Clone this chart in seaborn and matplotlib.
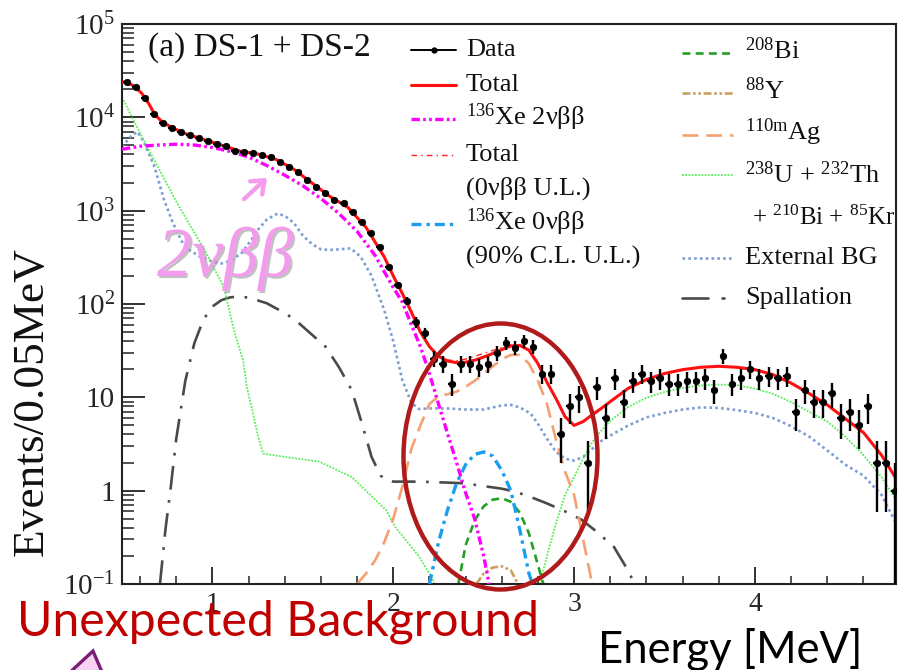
import numpy as np
import matplotlib
matplotlib.use("Agg")
import matplotlib.pyplot as plt
import seaborn as sns
from matplotlib.lines import Line2D
from matplotlib.patches import Ellipse, Polygon, FancyArrowPatch
from matplotlib.ticker import MultipleLocator, FixedLocator, LogLocator, NullFormatter
import matplotlib.patheffects as pe

# ---------------- data: counts per 0.05 MeV bin ----------------
bin_width = 0.05
data_counts = [23700, 21000, 16100, 10900, 8770, 7690, 7020, 6470, 5960, 5580,
               5180, 4930, 4360, 4290, 4120, 3950, 3730, 3350, 2960, 2580,
               2130, 1810, 1560, 1300, 1200, 975, 762, 572, 411, 247,
               160, 108, 64, 49, 26, 23, 14, 23, 23, 21,
               23, 30, 38, 34, 40, 35, 18, 18, 4, 8,
               10, 2, 13, 6, 16, 9, 15, 18, 15, 16,
               14, 14, 15, 15, 16, 12, 28, 14, 16, 20,
               16, 17, 16, 17, 7, 12, 9, 9, 11, 6,
               7, 5, 8, 2, 2, 1]
data_energy = np.round(0.5 + bin_width / 2 + bin_width * np.arange(len(data_counts)), 3)

# ---------------- fit components ----------------
total_energy = [0.50, 0.53, 0.57, 0.61, 0.65, 0.68, 0.72, 0.78, 0.85, 0.95,
                1.05, 1.15, 1.25, 1.35, 1.45, 1.55, 1.65, 1.75, 1.85, 1.95,
                2.00, 2.05, 2.10, 2.15, 2.20, 2.25, 2.30, 2.35, 2.40, 2.45,
                2.50, 2.55, 2.60, 2.65, 2.70, 2.75, 2.80, 2.85, 2.90, 2.95,
                3.00, 3.05, 3.10, 3.15, 3.20, 3.30, 3.40, 3.50, 3.60, 3.70,
                3.80, 3.90, 4.00, 4.10, 4.20, 4.30, 4.40, 4.50, 4.60, 4.70, 4.78]
total_counts = [24000, 23500, 21500, 18000, 13800, 10800, 9000, 7700, 6700, 5800,
                5050, 4350, 4050, 3550, 2780, 1980, 1420, 1080, 660, 320,
                200, 130, 82, 50, 35, 27.5, 24.5, 23.5, 23.8, 25,
                27, 29.5, 32.5, 35.5, 36, 32, 23, 14.5, 9.7, 6.2,
                5.0, 5.5, 6.5, 7.6, 9.0, 12.5, 15.5, 18, 19.8, 21,
                21.5, 21, 19.8, 17.5, 14.2, 11, 8.3, 5.9, 4.2, 2.4, 1.35]

total_ul_energy = [2.10, 2.15, 2.20, 2.25, 2.30, 2.35, 2.40, 2.45, 2.50, 2.55,
                   2.60, 2.65, 2.70, 2.75, 2.80]
total_ul_counts = [82, 50, 35, 27.8, 25.1, 24.7, 25.7, 27.5, 29.6, 31.8,
                   34.1, 36.5, 36.4, 32.1, 23]

bb2n_energy = [0.50, 0.60, 0.70, 0.80, 0.90, 1.00, 1.10, 1.20, 1.30, 1.40,
               1.50, 1.60, 1.70, 1.80, 1.90, 2.00, 2.05, 2.10, 2.15, 2.20,
               2.25, 2.30, 2.35, 2.40, 2.45, 2.50, 2.53]
bb2n_counts = [4550, 4900, 5050, 5150, 5050, 4750, 4300, 3750, 3050, 2400,
               1850, 1350, 930, 600, 330, 150, 105, 60, 35, 18,
               8.5, 4.1, 2.0, 0.95, 0.5, 0.2, 0.1]

bb0n_energy = [2.20, 2.25, 2.30, 2.35, 2.40, 2.45, 2.50, 2.55, 2.60, 2.65, 2.70, 2.75, 2.77]
bb0n_counts = [0.1, 0.28, 0.62, 1.2, 1.9, 2.45, 2.6, 2.35, 1.65, 1.0, 0.38, 0.13, 0.1]

bi208_energy = [2.36, 2.40, 2.45, 2.50, 2.55, 2.60, 2.65, 2.70, 2.75, 2.80, 2.83]
bi208_counts = [0.1, 0.26, 0.48, 0.68, 0.8, 0.83, 0.76, 0.58, 0.35, 0.16, 0.1]

y88_energy = [2.46, 2.50, 2.55, 2.60, 2.65, 2.69]
y88_counts = [0.1, 0.13, 0.15, 0.155, 0.14, 0.1]

ag110m_energy = [1.80, 1.85, 1.90, 1.95, 2.00, 2.05, 2.10, 2.15, 2.20, 2.25,
                 2.30, 2.35, 2.40, 2.45, 2.50, 2.55, 2.60, 2.65, 2.70, 2.75,
                 2.80, 2.85, 2.90, 2.95, 3.00, 3.05, 3.10]
ag110m_counts = [0.1, 0.13, 0.18, 0.28, 0.5, 1.1, 2.8, 5.0, 8.5, 10.2,
                 10.8, 11.5, 13, 15, 18, 21.5, 25.5, 28.5, 28.5, 23,
                 15, 8.5, 3.5, 1.6, 0.9, 0.3, 0.1]

uth_low_energy = [0.50, 0.55, 0.60, 0.65, 0.70, 0.75, 0.80, 0.85, 0.90, 0.95,
                  1.00, 1.05, 1.07, 1.10, 1.12, 1.15, 1.17, 1.19, 1.22, 1.25,
                  1.28, 1.40, 1.59, 1.77, 1.96, 2.01, 2.14, 2.21, 2.23]
uth_low_counts = [16500, 10500, 6800, 4400, 2900, 1900, 1250, 850, 580, 400,
                  260, 170, 135, 75, 52, 33, 25, 13, 7.3, 4.0,
                  2.5, 2.3, 2.05, 1.4, 0.62, 0.41, 0.2, 0.12, 0.1]
uth_high_energy = [2.81, 2.85, 2.90, 2.95, 3.00, 3.05, 3.10, 3.15, 3.20, 3.30,
                   3.40, 3.50, 3.60, 3.70, 3.80, 3.90, 4.00, 4.10, 4.20, 4.30,
                   4.40, 4.50, 4.60, 4.70, 4.78]
uth_high_counts = [0.1, 0.2, 0.45, 0.9, 1.4, 2.2, 3.3, 4.4, 5.6, 7.9,
                   9.9, 11.4, 12.6, 13.4, 13.7, 13.5, 12.4, 10.9, 8.9, 7.0,
                   5.5, 3.8, 2.4, 1.4, 0.8]

ext_energy = [0.50, 0.55, 0.585, 0.62, 0.68, 0.73, 0.78, 0.83, 0.88, 0.94,
              1.00, 1.05, 1.10, 1.16, 1.21, 1.25, 1.30, 1.36, 1.40, 1.45,
              1.50, 1.55, 1.60, 1.65, 1.70, 1.765, 1.82, 1.88, 1.95, 2.00,
              2.05, 2.10, 2.14, 2.20, 2.30, 2.40, 2.50, 2.60, 2.65, 2.70,
              2.76, 2.80, 2.85, 2.90, 2.95, 3.00, 3.05, 3.10, 3.15, 3.22,
              3.30, 3.40, 3.50, 3.60, 3.70, 3.80, 3.90, 4.00, 4.10, 4.20,
              4.30, 4.40, 4.50, 4.60, 4.70, 4.78]
ext_counts = [4850, 6300, 7000, 5500, 2950, 1350, 750, 470, 370, 315,
              285, 272, 290, 350, 470, 620, 800, 930, 880, 740,
              540, 440, 385, 380, 385, 395, 320, 200, 86, 40,
              15.3, 8.8, 7.5, 7.6, 7.6, 7.4, 7.4, 8.2, 8.3, 7.8,
              6.7, 5.2, 3.6, 2.6, 2.2, 2.1, 2.3, 2.8, 3.4, 4.1,
              5.0, 6.1, 6.8, 7.4, 7.8, 7.7, 7.3, 6.8, 6.0, 4.9,
              3.8, 2.7, 1.9, 1.45, 0.9, 0.45]

spall_energy = [0.71, 0.74, 0.77, 0.80, 0.85, 0.90, 0.95, 1.00, 1.05, 1.10,
                1.15, 1.20, 1.30, 1.40, 1.46, 1.55, 1.625, 1.70, 1.77, 1.83,
                1.88, 1.93, 1.96, 2.00, 2.10, 2.20, 2.30, 2.39, 2.50, 2.60,
                2.67, 2.75, 2.85, 2.95, 3.04, 3.12, 3.22, 3.28, 3.315, 3.33]
spall_counts = [0.1, 0.38, 1.1, 3.6, 15, 38, 68, 94, 110, 118,
                120, 117, 102, 80, 67, 47, 35, 21, 12, 5,
                2.3, 1.45, 1.3, 1.25, 1.25, 1.24, 1.22, 1.2, 1.12, 1.05,
                0.98, 0.87, 0.73, 0.6, 0.49, 0.37, 0.25, 0.16, 0.12, 0.1]

y_tick_values = [0.1, 1, 10, 100, 1e3, 1e4, 1e5]
y_tick_labels = [r"$\mathregular{10^{-1}}$", "1", "10", r"$\mathregular{10^{2}}$",
                 r"$\mathregular{10^{3}}$", r"$\mathregular{10^{4}}$", r"$\mathregular{10^{5}}$"]
x_tick_values = [1, 2, 3, 4]
x_tick_labels = ["1", "2", "3", "4"]

# ---------------- styles ----------------
STY = {
    "total":   dict(color="#ff1010", lw=2.2, ls="-"),
    "total_ul": dict(color="#ff2020", lw=1.0, ls=(0, (4, 3, 1, 3))),
    "bb2n":    dict(color="#ff00ff", lw=2.4, ls=(0, (2.5, 1.0, 0.8, 1.0, 0.8, 1.0))),
    "bb0n":    dict(color="#1a9ef0", lw=2.4, ls=(0, (3, 1.5, 1, 1.5))),
    "bi208":   dict(color="#22a022", lw=1.9, ls=(0, (3, 2))),
    "y88":     dict(color="#c8a060", lw=1.9, ls=(0, (3, 1, 1, 1, 1, 1))),
    "ag110m":  dict(color="#f6a072", lw=1.9, ls=(0, (6, 3))),
    "uth":     dict(color="#55ee55", lw=1.3, ls=(0, (1, 0.8))),
    "ext":     dict(color="#7e9cd4", lw=1.9, ls=(0, (1, 1.2))),
    "spall":   dict(color="#4a4a4a", lw=1.9, ls=(0, (9, 4, 1, 4))),
}

sns.set_theme(style="white")
plt.rcParams["font.family"] = ["Liberation Serif", "DejaVu Serif"]
plt.rcParams["mathtext.fontset"] = "custom"
plt.rcParams["mathtext.rm"] = "Liberation Serif"
plt.rcParams["mathtext.it"] = "Liberation Serif:italic"
plt.rcParams["mathtext.bf"] = "Liberation Serif:bold"

W, H = 899, 670
fig = plt.figure(figsize=(W / 100, H / 100), dpi=100)
fig.patch.set_facecolor("white")
ax = fig.add_axes([122 / W, 1 - 584 / H, (896 - 122) / W, (584 - 24) / H])
ax.set_facecolor("white")
ax.set_yscale("log")


def curve(x, y, key, z):
    s = STY[key]
    sns.lineplot(x=x, y=y, ax=ax, color=s["color"], linewidth=s["lw"], linestyle=s["ls"],
                 estimator=None, sort=False, legend=False, zorder=z)


curve(spall_energy, spall_counts, "spall", 2)
curve(ext_energy, ext_counts, "ext", 2)
curve(uth_low_energy, uth_low_counts, "uth", 2)
curve(uth_high_energy, uth_high_counts, "uth", 2)
curve(ag110m_energy, ag110m_counts, "ag110m", 2)
curve(y88_energy, y88_counts, "y88", 2)
curve(bi208_energy, bi208_counts, "bi208", 2)
curve(bb0n_energy, bb0n_counts, "bb0n", 3)
curve(bb2n_energy, bb2n_counts, "bb2n", 3)
curve(total_ul_energy, total_ul_counts, "total_ul", 4)
curve(total_energy, total_counts, "total", 5)

# data with Poisson errors
counts = np.array(data_counts, dtype=float)
err = np.sqrt(counts)
err_lo = np.minimum(err, counts * 0.999)
ax.errorbar(data_energy, counts, xerr=0.02, yerr=[err_lo, err], fmt="none",
            ecolor="black", elinewidth=1.7, capsize=0, zorder=6)
sns.scatterplot(x=data_energy, y=counts, ax=ax, color="black", s=22, marker="o",
                edgecolor="black", linewidth=0.5, zorder=7, legend=False)

ax.set_xlim(0.5, 4.78)
ax.set_ylim(0.1, 1e5)
ax.set_xlabel("")
ax.set_ylabel("")
ax.grid(False)

ax.yaxis.set_major_locator(FixedLocator(y_tick_values))
ax.set_yticklabels(y_tick_labels)
ax.yaxis.set_minor_locator(LogLocator(base=10, subs=np.arange(2, 10)))
ax.yaxis.set_minor_formatter(NullFormatter())
ax.xaxis.set_major_locator(FixedLocator(x_tick_values))
ax.set_xticklabels(x_tick_labels)
ax.xaxis.set_minor_locator(MultipleLocator(0.2))

ax.tick_params(axis="y", which="major", direction="in", length=16.5, width=1.3,
               labelsize=21, pad=5, color="#222222", left=True, right=False)
ax.tick_params(axis="y", which="minor", direction="in", length=8.5, width=1.1,
               color="#222222", left=True, right=False)
ax.tick_params(axis="x", which="major", direction="in", length=12, width=1.3,
               labelsize=20, pad=6, color="#222222", bottom=True, top=False)
ax.tick_params(axis="x", which="minor", direction="in", length=6, width=1.1,
               color="#222222", bottom=True, top=False)
for sp in ax.spines.values():
    sp.set_visible(True)
    sp.set_linewidth(1.5)
    sp.set_color("#222222")


# ---------------- helpers in pixel coordinates ----------------
def fx(px):
    return px / W


def fy(py):
    return 1 - py / H


renderer = fig.canvas.get_renderer()


def place(t, left=None, top=None, width=None, height=None):
    """Scale a text to a target size, then move its box to (left, top)."""
    bb = t.get_window_extent(renderer)
    if width is not None:
        t.set_fontsize(t.get_fontsize() * width / bb.width)
    elif height is not None:
        t.set_fontsize(t.get_fontsize() * height / bb.height)
    bb = t.get_window_extent(renderer)
    x, y = t.get_position()
    dx = (left - bb.x0) / W if left is not None else 0
    dy = ((H - top) - bb.y1) / H if top is not None else 0
    t.set_position((x + dx, y + dy))


# y-axis title
ylab = fig.text(fx(28), fy(400), "Events/0.05MeV", rotation=90, fontsize=26,
                ha="center", va="center", color="#111111")
place(ylab, left=12, top=247, height=308)

# panel title
title = fig.text(fx(148), fy(47), "(a) DS-1 + DS-2", fontsize=22, color="#111111")
place(title, left=148, top=32, width=222)

# ---------------- legend ----------------
LEG_FS = 19


def legend_entry(x0, x1, y, key):
    s = STY[key]
    fig.add_artist(Line2D([fx(x0), fx(x1)], [fy(y), fy(y)], transform=fig.transFigure,
                          color=s["color"], linewidth=s["lw"], linestyle=s["ls"]))


# column 1
fig.add_artist(Line2D([fx(411), fx(456)], [fy(50), fy(50)], transform=fig.transFigure,
                      color="black", linewidth=1.4))
fig.add_artist(Line2D([fx(433.5)], [fy(50)], transform=fig.transFigure, color="black",
                      marker="o", markersize=3.5))
legend_entry(411, 456, 85, "total")
legend_entry(411, 456, 119, "bb2n")
legend_entry(411, 456, 155, "total_ul")
legend_entry(411, 456, 224, "bb0n")

col1_text = [("Data", 50), ("Total", 85), (r"$^{136}$Xe 2νββ", 117),
             ("Total", 155), ("(0νββ U.L.)", 188), (r"$^{136}$Xe 0νββ", 222),
             ("(90% C.L. U.L.)", 257)]
for txt, yy in col1_text:
    fig.text(fx(466), fy(yy), txt, fontsize=LEG_FS, ha="left", va="center", color="#111111")

# column 2
legend_entry(682, 733, 53, "bi208")
legend_entry(682, 733, 93, "y88")
legend_entry(682, 733, 135, "ag110m")
legend_entry(682, 733, 175, "uth")
legend_entry(682, 733, 258, "ext")
fig.add_artist(Line2D([fx(682), fx(708)], [fy(298), fy(298)], transform=fig.transFigure,
                      color=STY["spall"]["color"], linewidth=STY["spall"]["lw"]))
fig.add_artist(Line2D([fx(722), fx(723.5)], [fy(298), fy(298)], transform=fig.transFigure,
                      color=STY["spall"]["color"], linewidth=STY["spall"]["lw"]))

col2_text = [(r"$^{208}$Bi", 745, 51), (r"$^{88}$Y", 745, 91),
             (r"$^{110\mathrm{m}}$Ag", 745, 132), (r"$^{238}$U + $^{232}$Th", 745, 175),
             ("External BG", 745, 258), ("Spallation", 745, 298)]
for txt, xx, yy in col2_text:
    fig.text(fx(xx), fy(yy), txt, fontsize=LEG_FS, ha="left", va="center", color="#111111")
kr = fig.text(fx(752), fy(218), r"+ $^{210}$Bi + $^{85}$Kr", fontsize=LEG_FS, ha="left",
              va="center", color="#111111")
place(kr, left=752, width=143)

# ---------------- annotations ----------------
PINK = "#f39cee"
lbl = fig.text(fx(157), fy(270), "2νββ", fontsize=40, fontstyle="italic", color=PINK,
               family=["Liberation Serif", "DejaVu Serif"],
               path_effects=[pe.SimplePatchShadow(offset=(1.5, -1.5), shadow_rgbFace="#999999",
                                                  alpha=0.6), pe.Normal()])
place(lbl, left=157, top=227, width=136)

arr = FancyArrowPatch((fx(242), fy(201)), (fx(269), fy(176)), transform=fig.transFigure,
                      arrowstyle="->,head_length=5,head_width=4", color=PINK, lw=3.2,
                      mutation_scale=1.6)
fig.add_artist(arr)

ell = Ellipse((fx(500.5), fy(456.5)), width=194 / W, height=266 / H, transform=fig.transFigure,
              fill=False, edgecolor="#b11a1a", linewidth=3.2, zorder=20)
fig.add_artist(ell)

ub = fig.text(fx(18), fy(632), "Unexpected Background", fontsize=34, color="#c00000",
              family=["Lato", "DejaVu Sans"], zorder=25)
place(ub, left=17, top=600, width=523)

en = fig.text(fx(598), fy(658), "Energy [MeV]", fontsize=30, color="black",
              family=["Lato", "DejaVu Sans"], zorder=25)
place(en, left=598, top=628, width=264)

tri = Polygon([(fx(40), fy(700)), (fx(93), fy(651)), (fx(114), fy(700))], closed=True,
              transform=fig.transFigure, facecolor="#f7d2f2", edgecolor="#7a1f78",
              linewidth=2.4, zorder=22)
fig.add_artist(tri)

fig.savefig("out.png", dpi=100, facecolor="white")
